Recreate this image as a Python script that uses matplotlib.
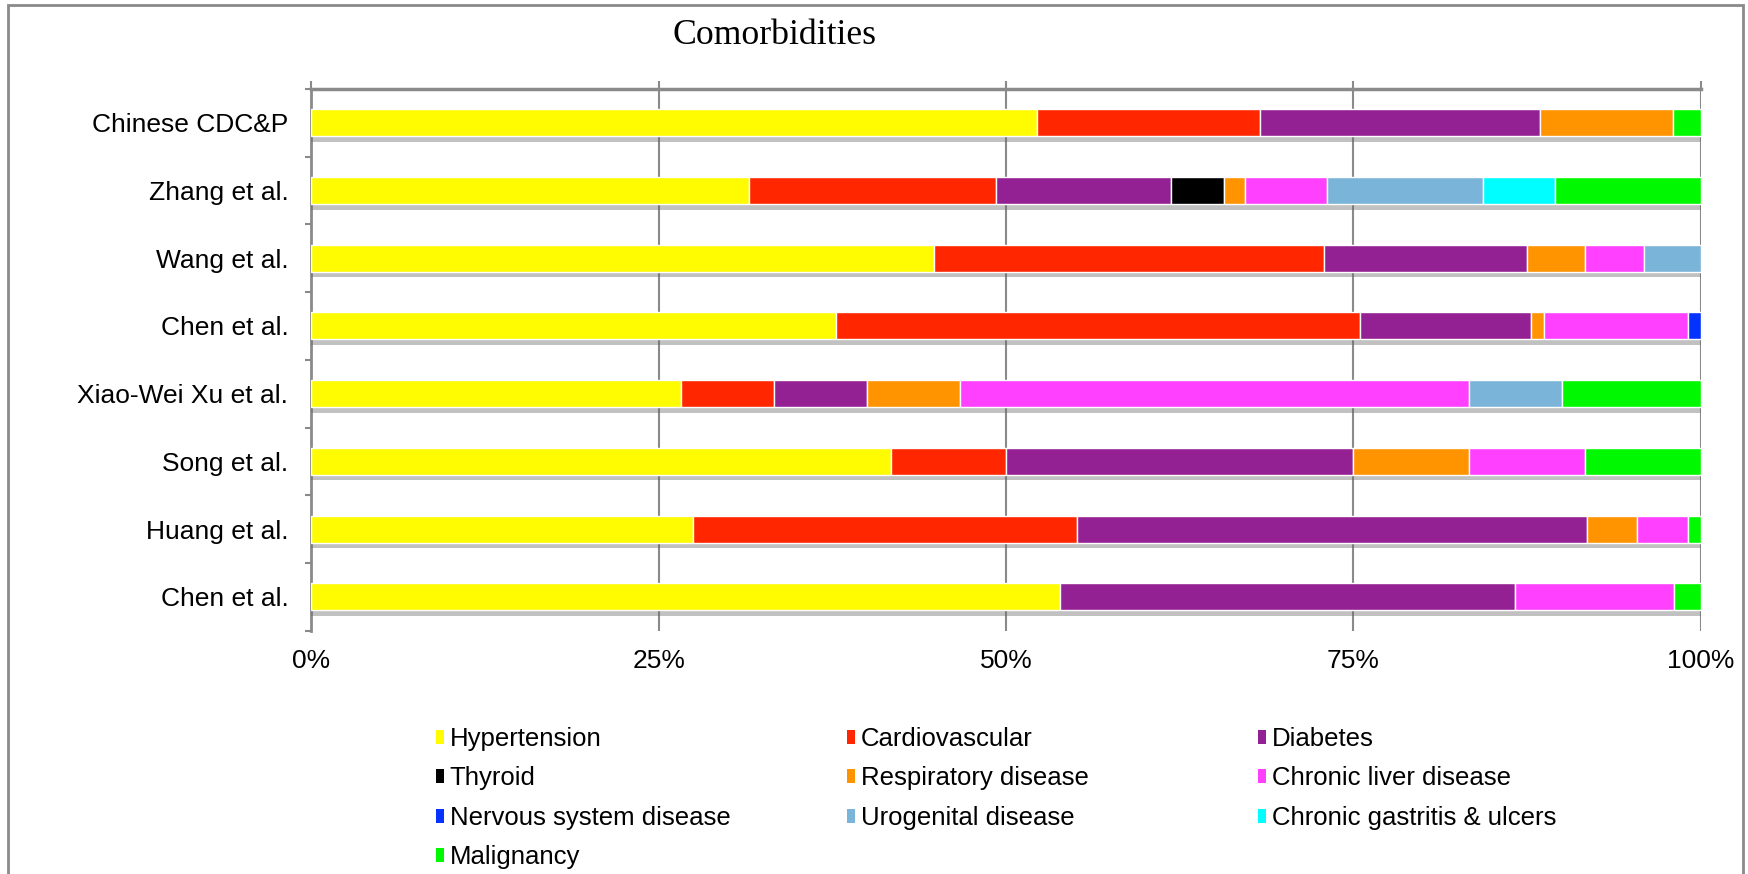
import matplotlib
matplotlib.use("Agg")
import matplotlib.pyplot as plt
import matplotlib.patheffects as pe
from matplotlib.patches import Rectangle
import numpy as np

# =========================
# Data (percent of comorbidities per study, top to bottom)
# =========================
studies = ["Chinese CDC&P", "Zhang et al.", "Wang et al.", "Chen et al.",
           "Xiao-Wei Xu et al.", "Song et al.", "Huang et al.", "Chen et al."]

hypertension = [52.2, 31.5, 44.8, 37.8, 26.6, 41.7, 27.5, 53.9]
cardiovascular = [16.1, 17.8, 28.1, 37.7, 6.7, 8.3, 27.6, 0.0]
diabetes = [20.1, 12.6, 14.6, 12.3, 6.7, 25.0, 36.7, 32.7]
thyroid = [0.0, 3.8, 0.0, 0.0, 0.0, 0.0, 0.0, 0.0]
respiratory = [9.6, 1.5, 4.2, 0.9, 6.7, 8.3, 3.6, 0.0]
liver = [0.0, 5.9, 4.2, 10.4, 36.6, 8.4, 3.7, 11.5]
nervous = [0.0, 0.0, 0.0, 0.9, 0.0, 0.0, 0.0, 0.0]
urogenital = [0.0, 11.2, 4.1, 0.0, 6.7, 0.0, 0.0, 0.0]
gastritis = [0.0, 5.2, 0.0, 0.0, 0.0, 0.0, 0.0, 0.0]
malignancy = [2.0, 10.5, 0.0, 0.0, 10.0, 8.3, 0.9, 1.9]

series_names = ["Hypertension", "Cardiovascular", "Diabetes", "Thyroid",
                "Respiratory disease", "Chronic liver disease",
                "Nervous system disease", "Urogenital disease",
                "Chronic gastritis & ulcers", "Malignancy"]
series_values = [hypertension, cardiovascular, diabetes, thyroid, respiratory,
                 liver, nervous, urogenital, gastritis, malignancy]
series_colors = ["#FFFB00", "#FF2600", "#942193", "#000000", "#FF9300",
                 "#FF40FF", "#0433FF", "#7AB4D8", "#00FDFF", "#00F900"]

x_ticks = [0, 25, 50, 75, 100]
x_tick_labels = ["0%", "25%", "50%", "75%", "100%"]

W, H = 1749, 874
grey = "#8a8a8a"

fig = plt.figure(figsize=(W / 100, H / 100), dpi=100)
fig.patch.set_facecolor("white")

# outer frame (runs off the bottom of the picture)
fig.patches.append(Rectangle((8 / W, -0.05), (1743 - 8) / W, 1.05 - 4.5 / H,
                             transform=fig.transFigure, fill=False,
                             edgecolor=grey, linewidth=2.0))

ax = fig.add_axes([311.2 / W, 1 - 630.6 / H, (1700.8 - 311.2) / W, (630.6 - 89) / H])

y_pos = np.arange(len(studies))
left = np.zeros(len(studies))
shadow = [pe.SimplePatchShadow(offset=(0, -4), shadow_rgbFace="#666666", alpha=0.4), pe.Normal()]

handles = []
for name, vals, color in zip(series_names, series_values, series_colors):
    vals = np.asarray(vals, dtype=float)
    mask = vals > 0
    bars = ax.barh(y_pos[mask], vals[mask], left=left[mask], height=0.4,
                   color=color, edgecolor="white", linewidth=1.0, zorder=3)
    for b in bars:
        b.set_path_effects(shadow)
    handles.append(Rectangle((0, 0), 1, 1, facecolor=color, edgecolor="none", label=name))
    left += vals

ax.set_xlim(0, 100)
ax.set_ylim(len(studies) - 0.5, -0.5)

ax.set_yticks(y_pos)
ax.set_yticklabels(studies, fontsize=19, family="Liberation Sans")
ax.set_yticks(np.arange(len(studies) + 1) - 0.5, minor=True)
ax.tick_params(axis="y", which="major", length=0, pad=16.5)
ax.tick_params(axis="y", which="minor", length=4.5, width=1.5, color=grey, direction="out")

ax.set_xticks(x_ticks)
ax.set_xticklabels(x_tick_labels, fontsize=19, family="Liberation Sans")
ax.tick_params(axis="x", which="major", bottom=False, top=True, labelbottom=True,
               labeltop=False, length=6, width=1.5, color=grey, direction="out", pad=7.5)

ax.grid(axis="x", color=grey, linewidth=1.5, zorder=0)
ax.set_axisbelow(True)
for side in ["bottom", "right"]:
    ax.spines[side].set_visible(False)
ax.spines["top"].set_color(grey)
ax.spines["top"].set_linewidth(2.5)
ax.spines["left"].set_color(grey)
ax.spines["left"].set_linewidth(2.0)

fig.text(775 / W, 1 - 35 / H, "Comorbidities", ha="center", va="center",
         fontsize=25.7, family="Liberation Serif")

# legend: three columns laid out row by row
col_x = [436, 847, 1258]
for c, x in enumerate(col_x):
    col_handles = handles[c::3]
    leg = fig.legend(handles=col_handles, loc="upper left",
                     bbox_to_anchor=(x / W, 1 - 727 / H), frameon=False,
                     prop={"family": "Liberation Sans", "size": 18.5},
                     handlelength=0.32, handleheight=0.47, handletextpad=0.22,
                     labelspacing=0.6, borderpad=0, borderaxespad=0)

fig.savefig("out.png", dpi=100, facecolor="white")
